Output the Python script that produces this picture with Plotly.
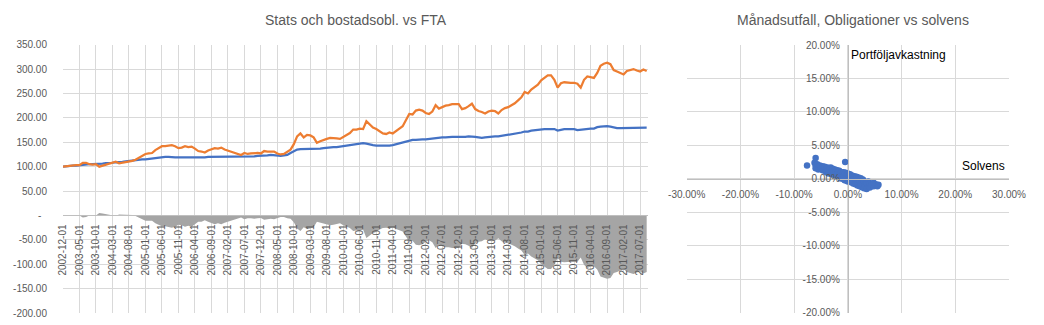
import pandas as pd
import plotly.graph_objects as go

# ---------------- data ----------------
months = [d.strftime("%Y-%m-%d") for d in pd.date_range("2002-12-01", periods=178, freq="MS")]

fta = [  # orange
    100, 101, 102, 102, 103, 103, 108, 108, 105, 104,
    105, 100, 102, 104, 106, 108, 110, 107, 108, 109,
    110, 112, 114, 118, 122, 126, 127, 128, 134, 138,
    142, 142, 143, 144, 142, 138, 139, 142, 140, 141,
    137, 132, 131, 129, 133, 136, 138, 137, 139, 135,
    133, 131, 129, 126, 124, 128, 126, 127, 128, 128,
    127, 132, 131, 131, 131, 127, 125, 126, 130, 135,
    146, 162, 168, 160, 165, 164, 160, 149, 152, 155,
    157, 159, 159, 158, 157, 161, 165, 169, 176, 176,
    178, 177, 193, 186, 180, 177, 172, 168, 167, 170,
    168, 174, 178, 183, 195, 208, 207, 215, 217, 215,
    210, 208, 213, 226, 219, 222, 225, 226, 228, 228,
    228, 218, 220, 224, 229, 218, 214, 212, 209, 213,
    215, 214, 209, 216, 220, 222, 226, 230, 236, 242,
    253, 250, 258, 263, 268, 277, 283, 287, 287, 278,
    262, 271, 273, 272, 272, 272, 270, 262, 278, 285,
    283, 282, 292, 307, 311, 313, 310, 298, 295, 292,
    289, 296, 298, 300, 297, 295, 299, 296,
]

stats_bost = [  # blue
    100, 101, 101, 102, 102, 103, 104, 105, 105, 105,
    105, 105, 106, 107, 107, 108, 109, 109, 110, 111,
    112, 113, 113, 114, 115, 115, 116, 117, 118, 119,
    120, 120, 120, 119, 119, 119, 119, 119, 119, 118,
    119, 119, 118, 119, 120, 120, 120, 121, 121, 120,
    120, 120, 121, 120, 120, 120, 120, 121, 121, 122,
    122, 123, 123, 124, 123, 122, 122, 123, 124, 128,
    132, 135, 136, 136, 137, 137, 136, 136, 137, 138,
    139, 139, 140, 140, 141, 141, 142, 143, 144, 145,
    146, 148, 147, 145, 144, 143, 143, 142, 142, 143,
    144, 146, 148, 150, 152, 154, 155, 155, 156, 156,
    156, 157, 158, 159, 159, 160, 160, 161, 161, 161,
    161, 160, 161, 162, 162, 161, 160, 159, 160, 161,
    162, 162, 162, 163, 164, 165, 166, 167, 168, 170,
    172, 172, 174, 175, 176, 177, 177, 177, 177, 177,
    174, 176, 177, 177, 177, 177, 175, 176, 177, 177,
    178, 178, 181, 182, 183, 183, 182, 180, 179, 179,
    179, 180, 180, 180, 180, 180, 180, 180,
]

diff = [b - o for b, o in zip(stats_bost, fta)]

y1_ticks = [350, 300, 250, 200, 150, 100, 50, 0, -50, -100, -150, -200]
y1_text = ["350.00", "300.00", "250.00", "200.00", "150.00", "100.00", "50.00",
           "-\u00a0\u00a0", "-50.00", "-100.00", "-150.00", "-200.00"]

# scatter: monthly solvency change vs portfolio return (in %)
solvens = [
    -7.6, -6.2, -6.0, -6.0, -6.0, -5.7, -5.5, -5.5, -5.2, -5.0, -5.0,
    -4.7, -4.7, -4.5, -4.3, -4.3, -4.0, -4.0, -3.8, -3.6, -3.6, -3.4,
    -3.2, -3.2, -3.0, -3.0, -2.8, -2.8, -2.6, -2.6, -2.4, -2.4, -2.2, -2.2,
    -2.0, -2.0, -1.8, -1.8, -1.6, -1.6, -1.4, -1.4, -1.2, -1.2, -1.0, -1.0,
    -0.8, -0.8, -0.6, -0.6, -0.5, -0.4, -0.4, -0.2, -0.2,
    0.0, 0.0, 0.0, 0.2, 0.2, 0.4, 0.4, 0.6, 0.6, 0.8, 0.8, 1.0, 1.0,
    1.2, 1.2, 1.4, 1.4, 1.6, 1.6, 1.8, 1.8, 2.0, 2.0, 2.2, 2.2, 2.4, 2.4,
    2.6, 2.6, 2.8, 2.8, 3.0, 3.0, 3.2, 3.2, 3.5, 3.5, 3.8, 3.8, 4.1, 4.1,
    4.4, 4.8, 4.8, 5.2, 5.5, 5.7,
]
avkastning = [
    2.0, 2.4, 3.1, 2.0, 1.6, 2.2, 1.8, 1.4, 2.0, 1.5, 1.8,
    1.9, 1.3, 1.6, 1.2, 1.8, 1.5, 1.0, 1.7, 1.2, 0.8, 1.5,
    1.0, 1.7, 0.7, 1.3, 1.5, 0.9, 0.6, 1.2, 1.4, 0.8, 0.5, 1.1,
    1.3, 0.7, 0.3, 1.0, 1.2, 0.5, 0.1, 0.8, 1.0, 0.4, 0.0, 0.7,
    1.0, 0.3, -0.2, 0.6, 2.5, 0.9, 0.2, -0.3, 0.5,
    0.8, 0.1, -0.4, 0.5, -0.2, 0.7, 0.0, -0.5, 0.3, 0.5, -0.1, -0.7, 0.2,
    0.4, -0.4, -0.8, 0.0, 0.3, -0.5, -1.0, -0.2, 0.2, -0.7, -1.1, -0.3, 0.1, -0.8,
    -1.2, -0.5, -0.1, -0.9, -1.4, -0.4, -0.8, -1.1, -1.5, -0.6, -1.0, -0.4, -1.3, -0.7,
    -0.9, -1.1, -0.6, -0.8, -1.1, -0.9,
]

x2_ticks = [-0.30, -0.20, -0.10, 0.0, 0.10, 0.20, 0.30]
x2_text = ["-30.00%", "-20.00%", "-10.00%", "0.00%", "10.00%", "20.00%", "30.00%"]
y2_ticks = [-0.20, -0.15, -0.10, -0.05, 0.0, 0.05, 0.10, 0.15, 0.20]
y2_text = ["-20.00%", "-15.00%", "-10.00%", "-5.00%", "0.00%", "5.00%", "10.00%", "15.00%", "20.00%"]

# ---------------- layout geometry ----------------
W, H = 1044, 325
def px(x):
    return x / W
def py(y):
    return (H - y) / H

FONT = "Liberation Sans, Arial, sans-serif"
GRID = "#D9D9D9"
TXT = "#595959"

y1_dom = [py(313), py(44.7)]
y1_zero = y1_dom[0] + (0 - (-200)) / 550 * (y1_dom[1] - y1_dom[0])

x2_dom = [px(686.7), px(1009)]
y2_dom = [py(312.7), py(45)]
x2_zero = x2_dom[0] + 0.5 * (x2_dom[1] - x2_dom[0])
y2_zero = y2_dom[0] + 0.5 * (y2_dom[1] - y2_dom[0])

fig = go.Figure()

fig.add_trace(go.Scatter(
    x=months, y=diff, mode="lines", line=dict(width=0, color="#A5A5A5"),
    fill="tozeroy", fillcolor="#A5A5A5", xaxis="x", yaxis="y",
    name="Diff", showlegend=False))
fig.add_trace(go.Scatter(
    x=months, y=stats_bost, mode="lines", line=dict(width=2.25, color="#4472C4"),
    xaxis="x", yaxis="y", name="Stats och bostadsobl.", showlegend=False))
fig.add_trace(go.Scatter(
    x=months, y=fta, mode="lines", line=dict(width=2.25, color="#ED7D31"),
    xaxis="x", yaxis="y", name="FTA", showlegend=False))

fig.add_trace(go.Scatter(
    x=[v / 100 for v in solvens], y=[v / 100 for v in avkastning], mode="markers",
    marker=dict(size=6.5, color="#4472C4"), xaxis="x2", yaxis="y2",
    name="Månadsutfall", showlegend=False))

fig.update_layout(
    width=W, height=H, margin=dict(l=0, r=0, t=0, b=0, autoexpand=False),
    paper_bgcolor="white", plot_bgcolor="white",
    font=dict(family=FONT, size=10, color=TXT),
    xaxis=dict(
        domain=[px(63), px(648)], type="category", range=[0, 177.4],
        anchor="free", position=y1_zero, automargin=False,
        tickmode="array", tickvals=months[::5], ticktext=months[::5],
        tickangle=-90, tickfont=dict(size=10, color=TXT),
        showgrid=True, gridcolor=GRID, gridwidth=1,
        showline=True, linecolor="#BFBFBF", linewidth=1,
        zeroline=False, ticks="", ticklabelstandoff=4,
    ),
    yaxis=dict(
        domain=y1_dom, range=[-200, 350], automargin=False,
        tickmode="array", tickvals=y1_ticks, ticktext=y1_text,
        tickfont=dict(size=10, color=TXT),
        showgrid=True, gridcolor=GRID, gridwidth=1, zeroline=False,
        showline=False, ticks="", ticklabelstandoff=15,
    ),
    xaxis2=dict(
        domain=x2_dom, range=[-0.30, 0.30], anchor="free", position=y2_zero,
        automargin=False,
        tickmode="array", tickvals=x2_ticks, ticktext=x2_text,
        tickfont=dict(size=10, color=TXT),
        showgrid=True, gridcolor=GRID, zeroline=False,
        showline=True, linecolor="#BFBFBF", linewidth=1, ticks="",
        ticklabelstandoff=6,
    ),
    yaxis2=dict(
        domain=y2_dom, range=[-0.20, 0.20], anchor="free", position=x2_zero,
        automargin=False,
        tickmode="array", tickvals=y2_ticks, ticktext=y2_text,
        tickfont=dict(size=10, color=TXT),
        showgrid=True, gridcolor=GRID, zeroline=False,
        showline=True, linecolor="#BFBFBF", linewidth=1, ticks="",
        ticklabelstandoff=6,
    ),
    annotations=[
        dict(text="Stats och bostadsobl. vs FTA", x=px(355.5), y=py(20.5),
             xref="paper", yref="paper", showarrow=False,
             xanchor="center", yanchor="middle", font=dict(size=14, color=TXT)),
        dict(text="Månadsutfall, Obligationer vs solvens", x=px(853.3), y=py(20.5),
             xref="paper", yref="paper", showarrow=False,
             xanchor="center", yanchor="middle", font=dict(size=14, color=TXT)),
        dict(text="Portföljavkastning", x=px(849), y=py(55),
             xref="paper", yref="paper", showarrow=False,
             xanchor="left", yanchor="middle", font=dict(size=12, color="#000000")),
        dict(text="Solvens", x=px(1007), y=py(165.7),
             xref="paper", yref="paper", showarrow=False,
             xanchor="right", yanchor="middle", font=dict(size=12, color="#000000")),
    ],
)

fig.write_html("out.html")
